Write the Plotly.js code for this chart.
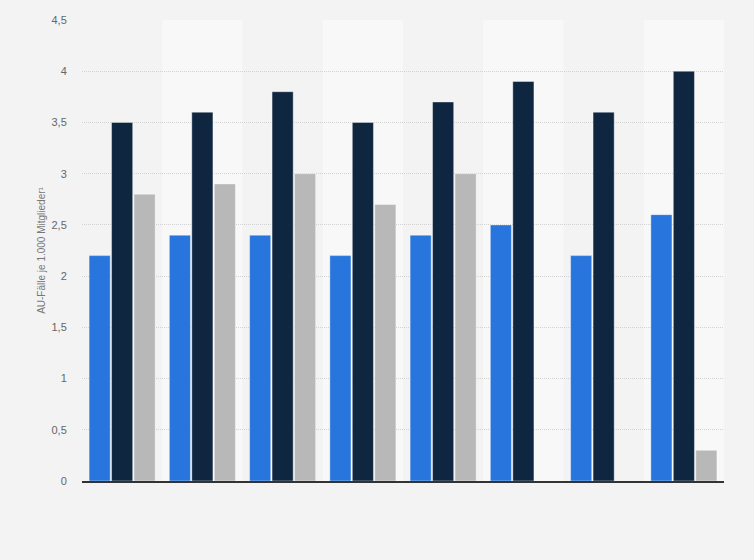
<!DOCTYPE html>
<html>
<head>
<meta charset="utf-8">
<script src="https://cdn.plot.ly/plotly-3.0.1.min.js"></script>
<style>
  html, body { margin: 0; padding: 0; background: #f3f3f3; }
  #chart { width: 754px; height: 560px; }
</style>
</head>
<body>
<div id="chart"></div>
<script>
// groups (no labels shown on the x axis in the picture)
const categories = ['G1', 'G2', 'G3', 'G4', 'G5', 'G6', 'G7', 'G8'];
const seriesNames = ['Reihe 1', 'Reihe 2', 'Reihe 3'];
const valuesBlue = [2.2, 2.4, 2.4, 2.2, 2.4, 2.5, 2.2, 2.6];
const valuesNavy = [3.5, 3.6, 3.8, 3.5, 3.7, 3.9, 3.6, 4.0];
const valuesGray = [2.8, 2.9, 3.0, 2.7, 3.0, null, null, 0.3];
const colors = ['#2876dd', '#0f2640', '#b8b8b8'];

let allValues = [valuesBlue, valuesNavy, valuesGray];
let traces = [];
for (let i = 0; i < allValues.length; i++) {
  traces.push({
    type: 'bar',
    name: seriesNames[i],
    x: categories,
    y: allValues[i],
    marker: {color: colors[i], line: {color: 'rgba(255,255,255,0.4)', width: 1}},
    hoverinfo: 'y'
  });
}

// lighter background band behind every second group
let shapes = [];
for (let i = 1; i < categories.length; i += 2) {
  shapes.push({
    type: 'rect', layer: 'below',
    xref: 'x', yref: 'paper',
    x0: i - 0.5, x1: i + 0.5, y0: 0, y1: 1,
    fillcolor: '#f8f8f8', line: {width: 0}
  });
}

let layout = {
  width: 754,
  height: 560,
  paper_bgcolor: '#f3f3f3',
  plot_bgcolor: '#f3f3f3',
  margin: {l: 82, r: 30, t: 20, b: 79},
  font: {family: 'Liberation Sans, Arial, sans-serif', size: 11, color: '#666'},
  separators: ',.',
  barmode: 'group',
  bargap: 0.16,
  bargroupgap: 0.06,
  showlegend: false,
  shapes: shapes,
  xaxis: {
    showticklabels: false,
    ticks: '',
    showgrid: false,
    showline: true,
    linecolor: '#333',
    linewidth: 1.5,
    fixedrange: true
  },
  yaxis: {
    range: [0, 4.5],
    dtick: 0.5,
    tickformat: ',.1~f',
    showgrid: true,
    gridcolor: '#d2d2d2',
    griddash: '1px,1px',
    gridwidth: 1,
    zeroline: false,
    ticks: 'outside',
    ticklen: 12,
    tickcolor: 'rgba(0,0,0,0)',
    tickfont: {size: 11, color: '#666'},
    title: {
      text: 'AU-Fälle je 1.000 Mitglieder¹',
      font: {size: 10, color: '#777'},
      standoff: 4
    },
    fixedrange: true
  }
};

Plotly.newPlot('chart', traces, layout, {displayModeBar: false, staticPlot: true});
</script>
</body>
</html>
